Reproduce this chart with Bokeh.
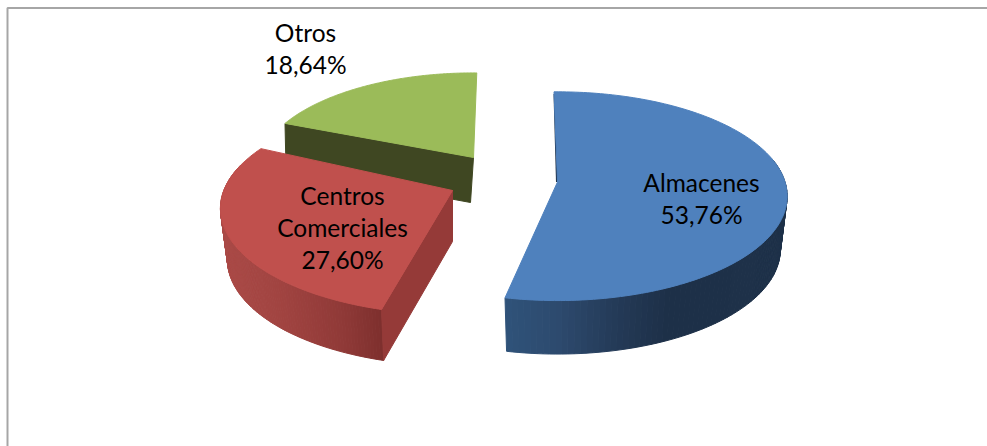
from bokeh.plotting import figure
from bokeh.embed import file_html
from bokeh.resources import INLINE
from bokeh.models import Range1d
from bokeh.core.properties import value
import numpy as np

# Data
categories = ["Almacenes", "Centros\nComerciales", "Otros"]
shares = [53.76, 27.60, 18.64]

# Layout / style
W, H = 987, 446
top_colors = ["#4f81bd", "#c0504d", "#9bbb59"]
wall_colors = ["#1e3149", "#953a38", "#3f4722"]
apexes = [(557, 181.5), (452, 190), (473, 157)]
slice_scale = [0.985, 0.99, 0.924]
slice_persp = [0.136, 0.17, 0.136]
slice_depth = [53.5, 51, 45]
nudge_start = [0.0, 2.5, 0.0]
nudge_end = [-1.0, 4.0, 2.0]
label_pos = [(701, 198), (342, 227), (305, 48)]
ramps = {
    0: [(-50, "#2f5279"), (0, "#2d4a6e"), (60, "#243a57"), (110, "#1d3048"), (240, "#1e3149")],
    1: [(-235, "#ab4b48"), (-170, "#a04340"), (-110, "#8f3937"), (-70, "#7d2f2d")],
}
A, B = 231, 104
SHRINK = 0.97
ROT = -1.0


def hex2rgb(h):
    return np.array([int(h[i:i + 2], 16) for i in (1, 3, 5)], float)


def rgb2hex(c):
    return "#%02x%02x%02x" % tuple(int(round(v)) for v in c)


def project(i, theta_deg):
    t = np.radians(theta_deg)
    s = 1 + slice_persp[i] * np.cos(t)
    return slice_scale[i] * A * np.sin(t) / s, -slice_scale[i] * B * np.cos(t) / s


p = figure(width=W, height=H, output_backend="svg", toolbar_location=None,
           x_range=Range1d(0, W), y_range=Range1d(H, 0), min_border=0,
           background_fill_color="white", border_fill_color="white", outline_line_color=None,
           styles={"position": "absolute", "left": "0px", "top": "0px"})
p.axis.visible = False
p.grid.visible = False

# chart frame (open on right and bottom)
p.line([7, 7, W], [H, 7.5, 7.5], line_color="#a6a6a6", line_width=2)

# slice angle limits from the values
total = sum(shares)
edges = ROT + np.concatenate([[0], np.cumsum(shares)]) / total * 360


def angles(i, n=160):
    return np.linspace(edges[i] + nudge_start[i], edges[i + 1] + nudge_end[i], n)


def top_outline(i):
    ax, ay = apexes[i]
    dx, dy = project(i, angles(i))
    return ax + dx, ay + dy


def low_outline(i, th):
    ax, ay = apexes[i]
    dx, dy = project(i, th)
    return ax + SHRINK * dx, ay + dy + slice_depth[i]


# --- Otros (back): inner wall then top
ax, ay = apexes[2]
x0, y0 = top_outline(2)
d2 = slice_depth[2]
p.patch([ax, x0[0], x0[0] + 1, ax - 3], [ay, y0[0], y0[0] + d2, ay + d2],
        fill_color=wall_colors[2], line_color=wall_colors[2])
p.patch([ax, *x0], [ay, *y0], fill_color=top_colors[2], line_color=top_colors[2])

# --- curved side walls with horizontal shading
for i in (1, 0):
    ax, ay = apexes[i]
    th = angles(i, 140)
    dx, dy = project(i, th)
    ux, uy = ax + dx, ay + dy
    lx, ly = low_outline(i, th)
    ramp = ramps[i]
    stops = [r[0] for r in ramp]
    cols = np.array([hex2rgb(r[1]) for r in ramp])
    xs, ys, fc = [], [], []
    for j in range(len(th) - 1):
        q = [ux[j], ux[j + 1], lx[j + 1], lx[j]]
        r = [uy[j], uy[j + 1], ly[j + 1], ly[j]]
        mid = (ux[j] + ux[j + 1]) / 2 - ax
        c = [np.interp(mid, stops, cols[:, k]) for k in range(3)]
        xs.append(q); ys.append(r); fc.append(rgb2hex(c))
    keep = [j for j in range(len(xs)) if np.cos(np.radians(th[j])) < 0.25]
    p.patches([xs[j] for j in keep], [ys[j] for j in keep],
              fill_color=[fc[j] for j in keep], line_color=[fc[j] for j in keep], line_width=1)

    xt, yt = top_outline(i)
    if i == 1:
        # red radial wall facing the viewer's right
        xl, yl = low_outline(1, th[:1])
        p.patch([ax, xt[0], xl[0], ax], [ay, yt[0], yl[0], ay + slice_depth[1]],
                fill_color=wall_colors[1], line_color=wall_colors[1])
    if i == 0:
        # dark sliver along the start edge of the big slice
        p.line([xt[0] + 1, ax], [yt[0] + 2, ay], line_color=wall_colors[0], line_width=3)
    p.patch([ax, *xt], [ay, *yt], fill_color=top_colors[i], line_color=top_colors[i])

# --- labels
LINE = 32
tx, ty, tt = [], [], []
for name, v, (lx_, ly_) in zip(categories, shares, label_pos):
    lines = name.split("\n") + [f"{v:.2f}%".replace(".", ",")]
    for k, s in enumerate(lines):
        tx.append(lx_); ty.append(ly_ + (k - (len(lines) - 1) / 2) * LINE); tt.append(s)
p.text(tx, ty, text=tt, text_align="center", text_baseline="middle",
       text_font=value("Lato"), text_font_size="24.5px", text_color="#000000")

open("out.html", "w").write(file_html(p, INLINE))
